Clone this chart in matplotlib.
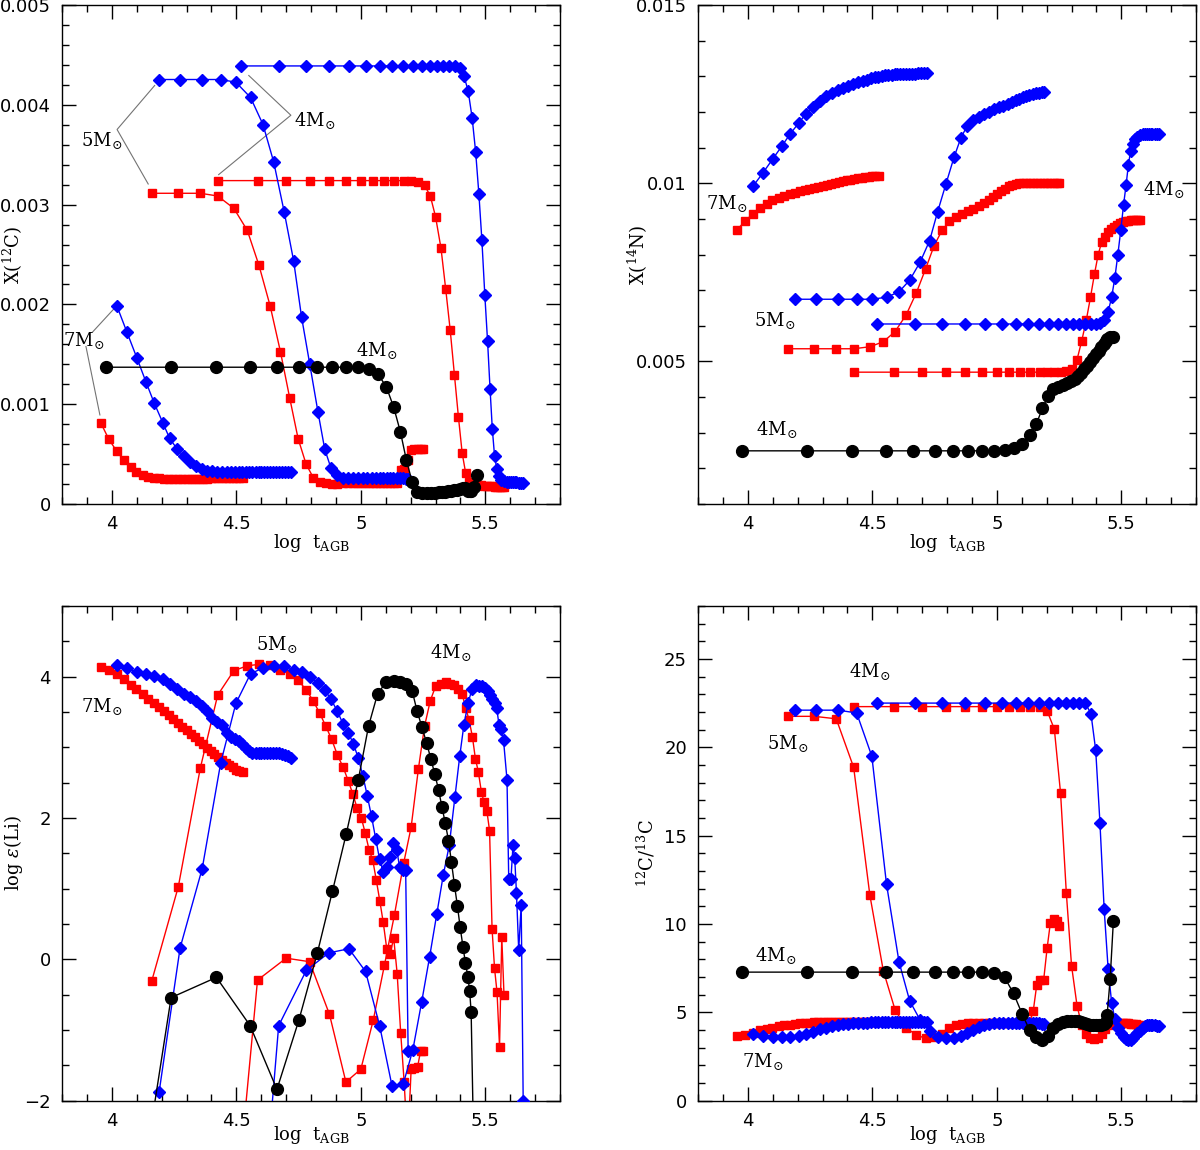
import matplotlib
matplotlib.use('Agg')
import matplotlib.pyplot as plt
from matplotlib.ticker import MultipleLocator, FuncFormatter

# ---- model times (log t_AGB), shared by the four panels ----
t7_blue = [4.02, 4.06, 4.10, 4.137, 4.17, 4.205, 4.232, 4.262, 4.289, 4.315,
           4.339, 4.361, 4.382, 4.404, 4.424, 4.444, 4.462, 4.479, 4.495, 4.510,
           4.524, 4.538, 4.551, 4.564, 4.577, 4.589, 4.601, 4.613, 4.625, 4.637,
           4.649, 4.661, 4.673, 4.685, 4.697, 4.709, 4.72]
t7_red = [3.955, 3.988, 4.02, 4.048, 4.075, 4.099, 4.124, 4.147, 4.170, 4.19,
          4.21, 4.229, 4.247, 4.265, 4.283, 4.30, 4.317, 4.333, 4.349, 4.365,
          4.381, 4.397, 4.412, 4.427, 4.442, 4.457, 4.471, 4.485, 4.499, 4.512,
          4.525]
t5_blue = [4.19, 4.274, 4.363, 4.437, 4.498, 4.557, 4.607, 4.65, 4.692, 4.73,
           4.762, 4.795, 4.828, 4.855, 4.88, 4.905, 4.928, 4.95, 4.97, 4.989,
           5.008, 5.026, 5.043, 5.06, 5.075, 5.09, 5.104, 5.118, 5.131, 5.144,
           5.156, 5.168, 5.18, 5.19]
t5_red = [4.16, 4.267, 4.355, 4.425, 4.49, 4.544, 4.591, 4.636, 4.677, 4.714,
          4.748, 4.780, 4.809, 4.835, 4.859, 4.883, 4.906, 4.929, 4.950, 4.968,
          4.985, 5.002, 5.018, 5.033, 5.048, 5.062, 5.076, 5.090, 5.104, 5.118,
          5.132, 5.146, 5.160, 5.174, 5.188, 5.202, 5.215, 5.228, 5.24, 5.25]
t4_blue = [4.518, 4.670, 4.781, 4.871, 4.952, 5.019, 5.076, 5.125, 5.170, 5.209,
           5.244, 5.276, 5.305, 5.331, 5.355, 5.378, 5.397, 5.414, 5.431, 5.447,
           5.461, 5.474, 5.486, 5.498, 5.509, 5.519, 5.528, 5.537, 5.546, 5.555,
           5.564, 5.573, 5.587, 5.594, 5.603, 5.611, 5.618, 5.625, 5.634, 5.644,
           5.652]
t4_red = [4.428, 4.585, 4.70, 4.794, 4.874, 4.94, 5.0, 5.05, 5.095, 5.135,
          5.172, 5.202, 5.231, 5.256, 5.279, 5.300, 5.322, 5.341, 5.359, 5.376,
          5.392, 5.407, 5.421, 5.435, 5.448, 5.46, 5.472, 5.484, 5.495, 5.506,
          5.517, 5.527, 5.537, 5.547, 5.557, 5.566, 5.575]
t4_black = [3.975, 4.238, 4.42, 4.555, 4.663, 4.751, 4.825, 4.886, 4.941, 4.99,
            5.031, 5.067, 5.102, 5.132, 5.159, 5.183, 5.206, 5.226, 5.246, 5.264,
            5.281, 5.297, 5.312, 5.326, 5.339, 5.352, 5.364, 5.376, 5.388, 5.399,
            5.41, 5.42, 5.43, 5.437, 5.443, 5.455, 5.468]

# ---- panel 1: X(12C) ----
c12_7_blue = [0.001987, 0.001726, 0.001468, 0.001224, 0.001013, 0.000813, 0.000659, 0.000552, 0.000478, 0.000418,
              0.000378, 0.000351, 0.000334, 0.000328, 0.000324, 0.000322, 0.00032, 0.00032, 0.00032, 0.00032,
              0.00032, 0.00032, 0.00032, 0.00032, 0.00032, 0.00032, 0.00032, 0.00032, 0.00032, 0.00032,
              0.00032, 0.00032, 0.00032, 0.00032, 0.00032, 0.00032, 0.00032]
c12_7_red = [0.000816, 0.000649, 0.000528, 0.000438, 0.000375, 0.000321, 0.000291, 0.000274, 0.000264, 0.000258,
             0.000255, 0.000253, 0.000252, 0.000252, 0.000252, 0.000253, 0.000253, 0.000254, 0.000254, 0.000255,
             0.000255, 0.000256, 0.000256, 0.000257, 0.000257, 0.000258, 0.000258, 0.000259, 0.000259, 0.00026,
             0.00026]
c12_5_blue = [0.004254, 0.004254, 0.004254, 0.004254, 0.004227, 0.004074, 0.003803, 0.003428, 0.00293, 0.002438,
              0.001873, 0.0014, 0.00092, 0.00055, 0.00036, 0.00029, 0.000265, 0.000258, 0.000257, 0.000257,
              0.000257, 0.000257, 0.000257, 0.000257, 0.000257, 0.000257, 0.000257, 0.000257, 0.000257, 0.000257,
              0.000257, 0.000256, 0.000255, 0.00025]
c12_5_red = [0.003114, 0.003114, 0.003114, 0.003087, 0.002963, 0.002742, 0.002391, 0.001983, 0.001528, 0.001067,
             0.000656, 0.000401, 0.000264, 0.000221, 0.00021, 0.000205, 0.000205, 0.000207, 0.000208, 0.00021,
             0.00021, 0.000212, 0.000213, 0.000214, 0.000215, 0.000215, 0.000214, 0.000212, 0.00021, 0.000208,
             0.00021, 0.00021, 0.00034, 0.000347, 0.00044, 0.00054, 0.00055, 0.00055, 0.00055, 0.00055]
c12_4_blue = [0.00439, 0.00439, 0.00439, 0.00439, 0.00439, 0.00439, 0.00439, 0.00439, 0.00439, 0.00439,
              0.00439, 0.00439, 0.00439, 0.00439, 0.00439, 0.00439, 0.004371, 0.00429, 0.00414, 0.00387,
              0.00353, 0.00311, 0.00265, 0.00209, 0.00163, 0.00115, 0.000753, 0.000482, 0.000351, 0.000281,
              0.000241, 0.00023, 0.000225, 0.00022, 0.00022, 0.00022, 0.00022, 0.00022, 0.00021, 0.00021,
              0.00021]
c12_4_red = [0.003241, 0.003241, 0.003241, 0.003241, 0.003241, 0.003241, 0.003241, 0.003241, 0.003241, 0.003241,
             0.003241, 0.003241, 0.003227, 0.003194, 0.003087, 0.00288, 0.002562, 0.00215, 0.00174, 0.00129,
             0.00087, 0.00051, 0.00031, 0.000224, 0.0002, 0.000195, 0.00019, 0.000188, 0.000185, 0.000182,
             0.00018, 0.000178, 0.000175, 0.000172, 0.00017, 0.000168, 0.000166]
c12_4_black = [0.001371, 0.001371, 0.001371, 0.001371, 0.001371, 0.001371, 0.001371, 0.001371, 0.001371, 0.001371,
               0.001357, 0.001307, 0.001177, 0.00097, 0.000722, 0.00044, 0.000222, 0.000123, 0.000107, 0.000108,
               0.00011, 0.000113, 0.000117, 0.00012, 0.000124, 0.000128, 0.000133, 0.000138, 0.000145, 0.000152,
               0.00016, 0.000165, 0.00013, 0.000128, 0.000135, 0.00017, 0.00029]

# ---- panel 2: X(14N) ----
n14_7_blue = [0.009911, 0.010286, 0.010681, 0.011047, 0.011385, 0.011695, 0.011939, 0.012146, 0.012315, 0.012437,
              0.012531, 0.012606, 0.012671, 0.012728, 0.012784, 0.012831, 0.012872, 0.01291, 0.012942, 0.01297,
              0.012993, 0.013012, 0.013028, 0.013041, 0.013051, 0.013059, 0.013065, 0.01307, 0.013073, 0.013075,
              0.013077, 0.013078, 0.013079, 0.01308, 0.01308, 0.01308, 0.01308]
n14_7_red = [0.008681, 0.008934, 0.009141, 0.0093, 0.009432, 0.009526, 0.009592, 0.009648, 0.009695, 0.009735,
             0.009773, 0.009808, 0.00984, 0.009871, 0.009901, 0.00993, 0.009958, 0.009985, 0.01001, 0.010035,
             0.010058, 0.01008, 0.0101, 0.010119, 0.010137, 0.010153, 0.010168, 0.010181, 0.010193, 0.010203,
             0.010211]
n14_5_blue = [0.006746, 0.006746, 0.006746, 0.006746, 0.006746, 0.006803, 0.006953, 0.007282, 0.007789, 0.00839,
              0.009197, 0.009967, 0.010728, 0.011263, 0.011601, 0.011779, 0.011864, 0.01194, 0.01201, 0.01207,
              0.01213, 0.01218, 0.01223, 0.01228, 0.01233, 0.01237, 0.01241, 0.01244, 0.01247, 0.0125,
              0.01252, 0.01254, 0.01255, 0.01256]
n14_5_red = [0.005357, 0.005357, 0.005357, 0.005357, 0.005413, 0.005554, 0.005836, 0.00631, 0.00693, 0.0076,
             0.008249, 0.008681, 0.008934, 0.009056, 0.00914, 0.009216, 0.009291, 0.009376, 0.00946, 0.00954,
             0.00962, 0.0097, 0.00978, 0.00985, 0.00991, 0.00996, 0.00999, 0.01, 0.01, 0.01,
             0.01, 0.01, 0.01, 0.01, 0.01, 0.01, 0.01, 0.01, 0.01, 0.01]
n14_4_blue = [0.006052, 0.006052, 0.006052, 0.006052, 0.006052, 0.006052, 0.006052, 0.006052, 0.006052, 0.006052,
              0.006052, 0.006052, 0.006052, 0.006052, 0.006052, 0.006052, 0.006052, 0.00607, 0.00615, 0.0064,
              0.0068, 0.00735, 0.0080, 0.0087, 0.0094, 0.00995, 0.0105, 0.0109, 0.0111, 0.01123,
              0.0113, 0.01135, 0.01137, 0.01138, 0.01138, 0.01138, 0.01138, 0.01138, 0.01138, 0.01138,
              0.01138]
n14_4_red = [0.0047, 0.0047, 0.0047, 0.0047, 0.0047, 0.0047, 0.0047, 0.0047, 0.0047, 0.0047,
             0.0047, 0.0047, 0.0047, 0.00471, 0.00473, 0.0048, 0.00505, 0.00558, 0.00615, 0.0068,
             0.00745, 0.008, 0.00835, 0.0085, 0.00862, 0.00871, 0.00878, 0.00884, 0.00888, 0.00891,
             0.00893, 0.00895, 0.00896, 0.00896, 0.00896, 0.00896, 0.00896]
n14_4_black = [0.002493, 0.002493, 0.002493, 0.002493, 0.002493, 0.002493, 0.002493, 0.002493, 0.002493, 0.002493,
               0.002512, 0.002559, 0.00269, 0.002925, 0.003254, 0.003685, 0.004033, 0.004221, 0.004296, 0.00435,
               0.0044, 0.00446, 0.00452, 0.0046, 0.00468, 0.00478, 0.00488, 0.00498, 0.0051, 0.0052,
               0.0053, 0.0054, 0.0055, 0.00558, 0.00564, 0.00569, 0.0057]

# ---- panel 3: log eps(Li) ----
li_7_blue = [4.158, 4.119, 4.064, 4.04, 4.015, 3.96, 3.90, 3.83, 3.75, 3.714,
             3.65, 3.585, 3.506, 3.41, 3.36, 3.31, 3.20, 3.14, 3.11, 3.09,
             3.05, 2.99, 2.95, 2.92, 2.914, 2.914, 2.914, 2.914, 2.914, 2.914,
             2.914, 2.914, 2.914, 2.905, 2.89, 2.87, 2.854]
li_7_red = [4.13, 4.09, 4.04, 3.965, 3.886, 3.822, 3.753, 3.689, 3.62, 3.57,
            3.51, 3.455, 3.40, 3.345, 3.29, 3.24, 3.19, 3.14, 3.09, 3.04,
            2.995, 2.95, 2.905, 2.86, 2.82, 2.78, 2.745, 2.715, 2.685, 2.66,
            2.645]
li_5_blue = [-1.877, 0.158, 1.284, 2.775, 3.62, 4.04, 4.123, 4.148, 4.148, 4.10,
             4.064, 3.99, 3.916, 3.812, 3.679, 3.516, 3.333, 3.2, 3.052, 2.854,
             2.60, 2.311, 2.02, 1.70, 1.42, 1.24, 1.30, 1.45, 1.65, 1.55,
             1.30, 1.26, 1.26, -1.30]
li_5_red = [-0.311, 1.027, 2.70, 3.738, 4.084, 4.153, 4.173, 4.158, 4.10, 4.035,
            3.946, 3.817, 3.654, 3.481, 3.30, 3.11, 2.89, 2.716, 2.52, 2.336,
            2.14, 2.0, 1.78, 1.55, 1.40, 1.12, 0.83, 0.52, 0.15, 0.08,
            0.30, -0.21, -1.04, -1.74, -2.65, -1.56, -1.54, -1.52, -1.30, -1.30]
li_4_blue = [-7.4, -0.94, -0.158, 0.09, 0.148, -0.173, -0.95, -1.79, -1.77, -1.28,
             -0.61, 0.03, 0.64, 1.19, 1.61, 2.30, 2.87, 3.32, 3.63, 3.83,
             3.88, 3.86, 3.87, 3.84, 3.80, 3.74, 3.68, 3.63, 3.55, 3.31,
             3.26, 3.10, 2.54, 1.13, 1.14, 1.61, 1.43, 0.94, 0.13, 0.77,
             -2.0]
li_4_red = [-6.2, -0.296, 0.015, -0.035, -0.78, -1.738, -1.556, -0.86, -0.08, 0.63,
            1.36, 1.87, 2.69, 3.3, 3.66, 3.86, 3.90, 3.93, 3.90, 3.88,
            3.83, 3.75, 3.56, 3.38, 3.15, 2.84, 2.65, 2.37, 2.22, 2.10,
            1.82, 0.43, -0.13, -0.47, -1.24, 0.32, -0.51]
li_4_black = [-6.5, -0.543, -0.257, -0.938, -1.842, -0.864, 0.084, 0.963, 1.768, 2.543,
              3.30, 3.753, 3.926, 3.94, 3.926, 3.90, 3.80, 3.51, 3.28, 3.06,
              2.84, 2.62, 2.40, 2.15, 1.93, 1.68, 1.37, 1.05, 0.75, 0.45,
              0.18, -0.05, -0.25, -0.45, -0.75, -3.0, -7.0]

# ---- panel 4: 12C/13C ----
r_7_blue = [3.77, 3.67, 3.58, 3.58, 3.58, 3.67, 3.77, 3.87, 4.03, 4.12,
            4.2, 4.26, 4.31, 4.34, 4.37, 4.39, 4.4, 4.41, 4.42, 4.42,
            4.42, 4.42, 4.42, 4.42, 4.42, 4.42, 4.42, 4.42, 4.42, 4.42,
            4.42, 4.42, 4.42, 4.42, 4.42, 4.42, 4.42]
r_7_red = [3.67, 3.71, 3.85, 3.97, 4.06, 4.13, 4.2, 4.26, 4.3, 4.34,
           4.37, 4.39, 4.41, 4.42, 4.43, 4.44, 4.44, 4.45, 4.45, 4.45,
           4.45, 4.45, 4.45, 4.45, 4.45, 4.45, 4.45, 4.45, 4.45, 4.45,
           4.45]
r_5_blue = [22.1, 22.1, 22.1, 21.94, 19.49, 12.24, 7.86, 5.64, 4.56, 3.91,
            3.6, 3.52, 3.55, 3.68, 3.85, 4.0, 4.15, 4.28, 4.36, 4.4,
            4.4, 4.4, 4.4, 4.4, 4.4, 4.4, 4.4, 4.4, 4.4, 4.4,
            4.4, 4.38, 4.35, 4.32]
r_5_red = [21.75, 21.75, 21.61, 18.86, 11.63, 7.35, 5.15, 4.11, 3.71, 3.52,
           3.58, 3.77, 4.11, 4.30, 4.36, 4.39, 4.4, 4.4, 4.4, 4.4,
           4.4, 4.4, 4.4, 4.4, 4.4, 4.4, 4.4, 4.4, 4.41, 4.42,
           4.45, 5.05, 6.52, 6.82, 6.82, 8.64, 10.06, 10.26, 10.16, 9.9]
r_4_blue = [22.5, 22.5, 22.5, 22.5, 22.5, 22.5, 22.5, 22.5, 22.5, 22.5,
            22.5, 22.5, 22.5, 22.5, 22.5, 21.9, 19.84, 15.74, 10.84, 7.45,
            5.55, 4.6, 4.1, 3.8, 3.62, 3.48, 3.40, 3.45, 3.55, 3.7,
            3.82, 3.95, 4.1, 4.2, 4.27, 4.28, 4.28, 4.26, 4.25, 4.22,
            4.2]
r_4_red = [22.3, 22.3, 22.3, 22.3, 22.3, 22.3, 22.3, 22.3, 22.3, 22.3,
           22.3, 22.06, 21.02, 17.39, 11.77, 7.64, 5.38, 4.26, 3.77, 3.52,
           3.48, 3.52, 3.77, 4.03, 4.25, 4.35, 4.39, 4.4, 4.4, 4.4,
           4.39, 4.38, 4.36, 4.34, 4.32, 4.3, 4.28]
r_4_black = [7.27, 7.27, 7.27, 7.27, 7.27, 7.27, 7.27, 7.27, 7.27, 7.21,
             6.97, 6.07, 4.89, 3.97, 3.58, 3.44, 3.67, 4.11, 4.36, 4.45,
             4.5, 4.52, 4.5, 4.48, 4.45, 4.4, 4.35, 4.3, 4.27, 4.25,
             4.27, 4.3, 4.36, 4.45, 4.86, 6.86, 10.16]

BLUE = '#0000ff'
RED = '#ff0000'

plt.rcParams['font.family'] = 'DejaVu Serif'
plt.rcParams['mathtext.fontset'] = 'dejavuserif'

fig = plt.figure(figsize=(12, 11.5), dpi=100)
ax1 = fig.add_axes([0.0517, 0.5617, 0.415, 0.4339])
ax2 = fig.add_axes([0.5817, 0.5617, 0.415, 0.4339])
ax3 = fig.add_axes([0.0517, 0.0430, 0.415, 0.4301])
ax4 = fig.add_axes([0.5817, 0.0430, 0.415, 0.4301])


def curves(ax, rows):
    for t, y, kind in rows:
        if kind == 'r':
            ax.plot(t, y, '-s', color=RED, ms=5.5, lw=1, mec=RED, zorder=2)
        elif kind == 'b':
            ax.plot(t, y, '-D', color=BLUE, ms=6, lw=1, mec=BLUE, zorder=3)
        else:
            ax.plot(t, y, '-o', color='black', ms=8.5, lw=1, zorder=4)


def style(ax, ylim, ymaj, ymin, ylab, ylab_x, xlab_y):
    ax.set_xlim(3.8, 5.8)
    ax.set_ylim(*ylim)
    ax.xaxis.set_major_locator(MultipleLocator(0.5))
    ax.xaxis.set_minor_locator(MultipleLocator(0.1))
    ax.yaxis.set_major_locator(MultipleLocator(ymaj))
    ax.yaxis.set_minor_locator(MultipleLocator(ymin))
    fmt = FuncFormatter(lambda v, p: ('%g' % round(v, 6)).replace('-', '\u2212'))
    ax.xaxis.set_major_formatter(fmt)
    ax.yaxis.set_major_formatter(fmt)
    ax.tick_params(which='both', direction='in', top=True, right=True, width=1)
    ax.tick_params(which='major', length=10, labelsize=13, pad=8)
    ax.tick_params(which='minor', length=5)
    for lab in ax.get_xticklabels() + ax.get_yticklabels():
        lab.set_family('DejaVu Sans')
    for s in ax.spines.values():
        s.set_linewidth(1)
    ax.set_xlabel(r'log  t$_{\rm AGB}$', fontsize=13)
    ax.xaxis.set_label_coords(0.5, xlab_y)
    ax.set_ylabel(ylab, fontsize=13)
    ax.yaxis.set_label_coords(ylab_x, 0.5)


def msun(ax, x, y, n):
    ax.text(x, y, n + r'M$_{\odot}$', fontsize=13, ha='center', va='center')


# panel 1
curves(ax1, [(t7_red, c12_7_red, 'r'), (t7_blue, c12_7_blue, 'b'),
             (t5_red, c12_5_red, 'r'), (t5_blue, c12_5_blue, 'b'),
             (t4_red, c12_4_red, 'r'), (t4_blue, c12_4_blue, 'b'),
             (t4_black, c12_4_black, 'k')])
style(ax1, (0, 0.005), 0.001, 0.0002, r'X($^{12}$C)', -0.074, -0.057)
grey = dict(color='0.45', lw=0.8)
ax1.plot([4.172, 4.021, 4.146], [0.004194, 0.003753, 0.003207], **grey)
ax1.plot([4.55, 4.719, 4.429], [0.004294, 0.003896, 0.003301], **grey)
ax1.plot([3.922, 4.008], [0.001722, 0.001955], **grey)
ax1.plot([3.896, 3.952], [0.001579, 0.000893], **grey)
msun(ax1, 3.96, 0.003645, '5')
msun(ax1, 4.815, 0.003846, '4')
msun(ax1, 3.888, 0.001635, '7')
msun(ax1, 5.065, 0.001538, '4')

# panel 2
curves(ax2, [(t7_red, n14_7_red, 'r'), (t7_blue, n14_7_blue, 'b'),
             (t5_red, n14_5_red, 'r'), (t5_blue, n14_5_blue, 'b'),
             (t4_red, n14_4_red, 'r'), (t4_blue, n14_4_blue, 'b'),
             (t4_black, n14_4_black, 'k')])
style(ax2, (0.001, 0.015), 0.005, 0.001, r'X($^{14}$N)', -0.096, -0.057)
msun(ax2, 3.914, 0.00944, '7')
msun(ax2, 5.671, 0.00982, '4')
msun(ax2, 4.107, 0.00616, '5')
msun(ax2, 4.115, 0.00309, '4')

# panel 3
curves(ax3, [(t7_red, li_7_red, 'r'), (t7_blue, li_7_blue, 'b'),
             (t5_red, li_5_red, 'r'), (t5_blue, li_5_blue, 'b'),
             (t4_red, li_4_red, 'r'), (t4_blue, li_4_blue, 'b'),
             (t4_black, li_4_black, 'k')])
style(ax3, (-2, 5), 2, 0.5, r'log $\epsilon$(Li)', -0.074, -0.048)
msun(ax3, 4.66, 4.45, '5')
msun(ax3, 3.96, 3.58, '7')
msun(ax3, 5.36, 4.34, '4')

# panel 4
curves(ax4, [(t7_red, r_7_red, 'r'), (t7_blue, r_7_blue, 'b'),
             (t5_red, r_5_red, 'r'), (t5_blue, r_5_blue, 'b'),
             (t4_red, r_4_red, 'r'), (t4_blue, r_4_blue, 'b'),
             (t4_black, r_4_black, 'k')])
style(ax4, (0, 28), 5, 1, r'$^{12}$C/$^{13}$C', -0.082, -0.048)
msun(ax4, 4.49, 24.3, '4')
msun(ax4, 4.16, 20.2, '5')
msun(ax4, 4.11, 8.2, '4')
msun(ax4, 4.06, 2.2, '7')

fig.savefig('out.png', dpi=100)
